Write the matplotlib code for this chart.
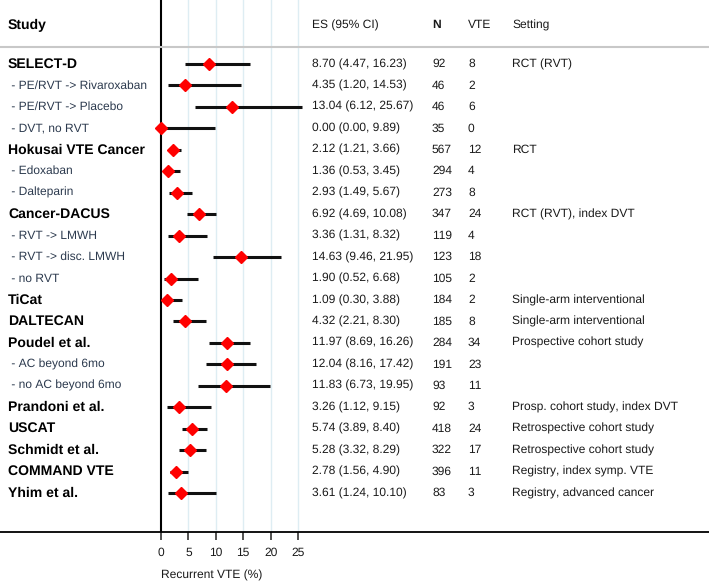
import matplotlib
matplotlib.use("Agg")
import matplotlib.pyplot as plt

plt.rcParams['font.family'] = ['Liberation Sans', 'DejaVu Sans']
plt.rcParams['text.hinting'] = 'no_hinting'
plt.rcParams['text.hinting_factor'] = 1

labels = ["SELECT-D", " - PE/RVT -> Rivaroxaban", " - PE/RVT -> Placebo", " - DVT, no RVT",
          "Hokusai VTE Cancer", " - Edoxaban", " - Dalteparin",
          "Cancer-DACUS", " - RVT -> LMWH", " - RVT -> disc. LMWH", " - no RVT",
          "TiCat", "DALTECAN", "Poudel et al.", " - AC beyond 6mo", " - no AC beyond 6mo",
          "Prandoni et al.", "USCAT", "Schmidt et al.", "COMMAND VTE", "Yhim et al."]
is_main = [True, False, False, False, True, False, False, True, False, False, False,
           True, True, True, False, False, True, True, True, True, True]
es = [8.70, 4.35, 13.04, 0.00, 2.12, 1.36, 2.93, 6.92, 3.36, 14.63, 1.90,
      1.09, 4.32, 11.97, 12.04, 11.83, 3.26, 5.74, 5.28, 2.78, 3.61]
ci_low = [4.47, 1.20, 6.12, 0.00, 1.21, 0.53, 1.49, 4.69, 1.31, 9.46, 0.52,
          0.30, 2.21, 8.69, 8.16, 6.73, 1.12, 3.89, 3.32, 1.56, 1.24]
ci_high = [16.23, 14.53, 25.67, 9.89, 3.66, 3.45, 5.67, 10.08, 8.32, 21.95, 6.68,
           3.88, 8.30, 16.26, 17.42, 19.95, 9.15, 8.40, 8.29, 4.90, 10.10]
n_pat = [92, 46, 46, 35, 567, 294, 273, 347, 119, 123, 105,
         184, 185, 284, 191, 93, 92, 418, 322, 396, 83]
n_vte = [8, 2, 6, 0, 12, 4, 8, 24, 4, 18, 2, 2, 8, 34, 23, 11, 3, 24, 17, 11, 3]
setting = ["RCT (RVT)", "", "", "", "RCT", "", "", "RCT (RVT), index DVT", "", "", "",
           "Single-arm interventional", "Single-arm interventional", "Prospective cohort study",
           "", "", "Prosp. cohort study, index DVT", "Retrospective cohort study",
           "Retrospective cohort study", "Registry, index symp. VTE", "Registry, advanced cancer"]
headers = ["Study", "ES (95% CI)", "N", "VTE", "Setting"]
xticks = [0, 5, 10, 15, 20, 25]

W, H = 709, 584
fig = plt.figure(figsize=(W / 100, H / 100), dpi=100)
ax_bottom_px = 532
ax = fig.add_axes([0, (H - ax_bottom_px) / H, 1, ax_bottom_px / H])

px_per_unit = (298 - 161) / 25.0
x0 = 161
ax.set_xlim(-x0 / px_per_unit, (W - x0) / px_per_unit)
row_sp = (493 - 64) / 20.0
first = 64
ax.set_ylim((ax_bottom_px - first) / row_sp, -first / row_sp)

def xfrac(px):
    return px / W

ys = list(range(len(labels)))

for t in xticks[1:]:
    ax.axvline(t, color='#deedf3', lw=1.0, zorder=0)
ax.axvline(0, color='black', lw=1.5, zorder=2)

sep_y = (47 - first) / row_sp
ax.plot([0, 1], [sep_y, sep_y], transform=ax.get_yaxis_transform(), color='#c8c8c8', lw=1.5, clip_on=False)

for y, e, lo, hi in zip(ys, es, ci_low, ci_high):
    ax.plot([lo, hi], [y, y], color='#111111', lw=2.2, solid_capstyle='butt', zorder=3)
ax.plot(es, ys, linestyle='none', marker='D', color='#ff0000', markersize=6.5, zorder=4, clip_on=False)

trans = ax.get_yaxis_transform()
head_y = (25 - first) / row_sp
ax.text(xfrac(8), head_y, headers[0], transform=trans, fontsize=10, fontweight='bold', va='center', ha='left')
ax.text(xfrac(312), head_y, headers[1], transform=trans, fontsize=8.8, va='center', ha='left', color='#1a1a1a')
ax.text(xfrac(432), head_y, headers[2], transform=trans, fontsize=8.8, va='center', ha='left', color='#1a1a1a', fontweight='bold')
ax.text(xfrac(468), head_y, headers[3], transform=trans, fontsize=8.8, va='center', ha='left', color='#1a1a1a')
ax.text(xfrac(512), head_y, headers[4], transform=trans, fontsize=8.8, va='center', ha='left', color='#1a1a1a')

for y, lab, m, e, lo, hi, n, v, s in zip(ys, labels, is_main, es, ci_low, ci_high, n_pat, n_vte, setting):
    if m:
        ax.text(xfrac(8), y, lab, transform=trans, fontsize=10, fontweight='bold', va='center', ha='left')
    else:
        ax.text(xfrac(8), y, lab, transform=trans, fontsize=8.6, va='center', ha='left', color='#2c3a4e')
    ax.text(xfrac(312), y, f"{e:.2f} ({lo:.2f}, {hi:.2f})", transform=trans, fontsize=8.8,
            va='center', ha='left', color='#1a1a1a')
    ax.text(xfrac(432), y, f"{n}", transform=trans, fontsize=8.8, va='center', ha='left', color='#1a1a1a')
    ax.text(xfrac(468), y, f"{v}", transform=trans, fontsize=8.8, va='center', ha='left', color='#1a1a1a')
    if s:
        ax.text(xfrac(512), y, s, transform=trans, fontsize=8.8, va='center', ha='left', color='#1a1a1a')

for sp in ['left', 'right', 'top']:
    ax.spines[sp].set_visible(False)
ax.spines['bottom'].set_linewidth(1.3)
ax.set_yticks([])
ax.set_xticks(xticks)
ax.set_xticklabels([str(t) for t in xticks], fontsize=8.8, color='#1a1a1a')
ax.tick_params(axis='x', length=6, width=1.2, pad=5, colors='#333333', labelcolor='#1a1a1a')
fig.text(161 / W, 1 - 575 / H, "Recurrent VTE (%)", fontsize=8.8, ha='left', va='center', color='#1a1a1a')

fig.savefig("out.png", dpi=100)
